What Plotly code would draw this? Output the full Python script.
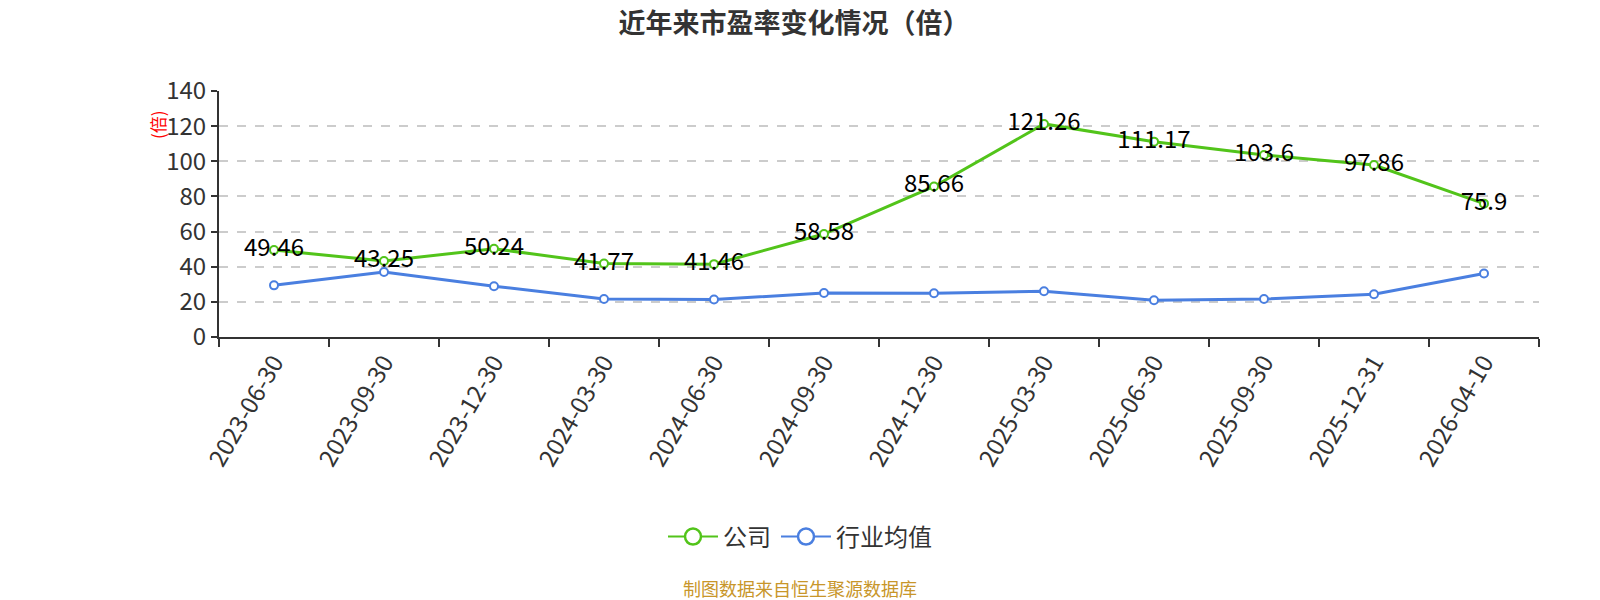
import plotly.graph_objects as go

dates = ["2023-06-30", "2023-09-30", "2023-12-30", "2024-03-30", "2024-06-30", "2024-09-30",
         "2024-12-30", "2025-03-30", "2025-06-30", "2025-09-30", "2025-12-31", "2026-04-10"]
company = [49.46, 43.25, 50.24, 41.77, 41.46, 58.58, 85.66, 121.26, 111.17, 103.6, 97.86, 75.9]
industry = [29.4, 37.0, 28.9, 21.6, 21.3, 25.0, 24.9, 26.0, 20.9, 21.6, 24.3, 36.1]
company_labels = ["49.46", "43.25", "50.24", "41.77", "41.46", "58.58", "85.66", "121.26",
                  "111.17", "103.6", "97.86", "75.9"]

GREEN = "#52c41a"
BLUE = "#4a7fe0"
FONT = "Noto Sans CJK SC"

L, R, T, B = 219, 61, 91, 263
W, H = 1600, 600
plot_w = W - L - R
plot_h = H - T - B


def px_x(x):
    return (x - L) / plot_w


def px_y(y):
    return (H - B - y) / plot_h


fig = go.Figure()
fig.add_trace(go.Scatter(
    x=dates, y=company, mode="lines+markers+text", name="公司",
    text=company_labels, textposition="middle center",
    textfont=dict(size=24, color="#000000", family=FONT),
    line=dict(color=GREEN, width=3),
    marker=dict(size=8, color="white", line=dict(color=GREEN, width=2)),
    showlegend=False, cliponaxis=False,
))
fig.add_trace(go.Scatter(
    x=dates, y=industry, mode="lines+markers", name="行业均值",
    line=dict(color=BLUE, width=3),
    marker=dict(size=8, color="white", line=dict(color=BLUE, width=2)),
    showlegend=False, cliponaxis=False,
))
# legend entries
fig.add_trace(go.Scatter(
    x=[None], y=[None], mode="lines+markers", name="公司",
    line=dict(color=GREEN, width=2),
    marker=dict(size=22, color="white", line=dict(color=GREEN, width=2.5)),
))
fig.add_trace(go.Scatter(
    x=[None], y=[None], mode="lines+markers", name="行业均值",
    line=dict(color=BLUE, width=2),
    marker=dict(size=22, color="white", line=dict(color=BLUE, width=2.5)),
))

fig.update_layout(
    width=W, height=H,
    margin=dict(l=L, r=R, t=T, b=B),
    paper_bgcolor="white", plot_bgcolor="white",
    font=dict(family=FONT, color="#333333"),
    title=dict(text="<b>近年来市盈率变化情况（倍）</b>", x=794 / W, xanchor="center",
               xref="container", yref="container",
               y=1 - 24 / H, yanchor="middle", font=dict(size=27, color="#333333", family=FONT)),
    showlegend=True,
    legend=dict(orientation="h", x=px_x(800), xanchor="center", y=px_y(537), yanchor="middle",
                font=dict(size=24, color="#333333", family=FONT),
                itemwidth=50, traceorder="normal"),
    annotations=[
        dict(text="(倍)", x=px_x(157), y=px_y(125), xref="paper", yref="paper", showarrow=False,
             textangle=-90, font=dict(size=17, color="red", family=FONT),
             xanchor="center", yanchor="middle"),
        dict(text="制图数据来自恒生聚源数据库", x=px_x(800), y=px_y(588), xref="paper", yref="paper",
             showarrow=False, font=dict(size=18, color="#c8962a", family=FONT),
             xanchor="center", yanchor="middle"),
    ],
)

fig.update_xaxes(
    type="category", tickangle=-60, tickson="boundaries",
    ticks="outside", ticklen=8, tickcolor="#333333", tickwidth=2,
    showline=True, linecolor="#333333", linewidth=2,
    showgrid=False, automargin=False,
    tickfont=dict(size=24, color="#333333", family=FONT),
    range=[-0.5, 11.5],
)
fig.update_yaxes(
    range=[0, 140], dtick=20, tick0=0,
    ticks="outside", ticklen=6, tickcolor="#333333", tickwidth=2,
    showline=True, linecolor="#333333", linewidth=2,
    showgrid=True, gridcolor="#cccccc", griddash="dash", gridwidth=1.5,
    zeroline=False, automargin=False,
    tickfont=dict(size=24, color="#333333", family=FONT),
)

fig.write_html("out.html")
